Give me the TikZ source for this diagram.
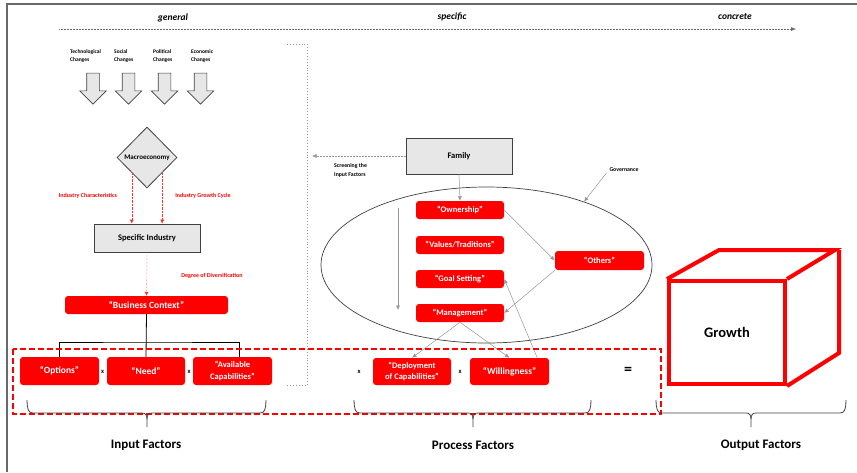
\documentclass[tikz,border=0pt]{standalone}
\usepackage{fontspec}
\setmainfont{Carlito}
\usetikzlibrary{shapes.geometric,shapes.arrows,arrows.meta,calc}
\definecolor{boxred}{RGB}{255,0,0}
\definecolor{panelgrey}{RGB}{231,231,231}
\definecolor{edgegrey}{RGB}{64,64,64}
\definecolor{linkgrey}{RGB}{150,150,150}
\definecolor{framegrey}{RGB}{105,105,105}

% horizontal curly brace: left x, right x, top y, tip x
\newcommand\factorbrace[4]{%
  \draw[bracestyle] (#1,#3) .. controls (#1+0.3,#3+9) and (#1+1,#3+13) .. (#1+6,#3+13)
    -- (#4-5,#3+13) .. controls (#4-1.5,#3+13) and (#4,#3+15) .. (#4,#3+19) -- (#4,#3+27);
  \draw[bracestyle] (#2,#3) .. controls (#2-0.3,#3+9) and (#2-1,#3+13) .. (#2-6,#3+13)
    -- (#4+5,#3+13) .. controls (#4+1.5,#3+13) and (#4,#3+15) .. (#4,#3+19);
}

\begin{document}
\begin{tikzpicture}[x=1pt,y=-1pt,
  redbox/.style={draw=none, fill=boxred, rounded corners=3pt, text=white,
    font=\bfseries\fontsize{8.5}{11.5}\selectfont, align=center, inner sep=0pt},
  bigred/.style={redbox, font=\bfseries\fontsize{9.5}{11.5}\selectfont},
  greybox/.style={draw=edgegrey, fill=panelgrey, line width=0.8pt,
    font=\bfseries\fontsize{8.5}{10}\selectfont, inner sep=0pt},
  chgarrow/.style={single arrow, draw=edgegrey, fill=panelgrey, line width=0.6pt,
    single arrow head extend=7pt, minimum height=31pt, inner sep=6pt, rotate=-90},
  smalltext/.style={font=\bfseries\fontsize{5.5}{8.5}\selectfont, align=left, inner sep=0pt},
  redlabel/.style={text=boxred, font=\bfseries\fontsize{6}{7}\selectfont, inner sep=0pt},
  axislabel/.style={font=\bfseries\itshape\fontsize{9.5}{11}\selectfont, inner sep=0pt},
  factorlabel/.style={font=\bfseries\fontsize{13}{15}\selectfont, inner sep=0pt},
  timesmark/.style={font=\bfseries\fontsize{6.5}{8}\selectfont, inner sep=0pt},
  redlink/.style={draw=boxred!80, densely dotted, line width=0.4pt, -{Latex[length=4pt,width=4pt]}},
  greylink/.style={draw=linkgrey, line width=0.5pt, -{Latex[length=4.5pt,width=4pt]}},
  bracestyle/.style={draw=black!75, line width=0.8pt},
  cubeline/.style={draw=boxred, line width=4pt, line join=miter},
]
\useasboundingbox (0,0) rectangle (857,472);

% outer frame
\draw[framegrey, line width=1.3pt] (7,472) -- (7,4) -- (857,4);

% general -> specific -> concrete axis
\coordinate (axS) at (59,29);
\coordinate (axE) at (796,29);
\draw[linkgrey!70!black, densely dotted, line width=0.5pt, -{Latex[length=5pt,width=4pt]}] (axS) -- (axE);
\node[axislabel] (gen) at (173,18) {general};
\node[axislabel] (spe) at (452,17) {specific};
\node[axislabel] (con) at (735,17) {concrete};

% environmental changes
\node[smalltext, anchor=north west] (tech) at (70,49) {Technological\\Changes};
\node[smalltext, anchor=north west] (soc) at (114,49) {Social\\Changes};
\node[smalltext, anchor=north west] (pol) at (153,49) {Political\\Changes};
\node[smalltext, anchor=north west] (eco) at (191,49) {Economic\\Changes};
\node[chgarrow] (a1) at (93,85.5) {};
\node[chgarrow] (a2) at (128.5,85.5) {};
\node[chgarrow] (a3) at (164.5,85.5) {};
\node[chgarrow] (a4) at (200.5,85.5) {};

% macro level to business context
\node[diamond, draw=edgegrey, fill=panelgrey, line width=0.8pt, minimum width=60pt,
  minimum height=61pt, inner sep=0pt, font=\bfseries\fontsize{7}{8}\selectfont] (mac) at (147,157.5) {Macroeconomy};
\node[greybox, minimum width=106pt, minimum height=28pt] (si) at (147,238) {Specific Industry};
\draw[redlink] (mac.south west) -- (mac.south west |- si.north);
\draw[redlink] (mac.south east) -- (mac.south east |- si.north);
\node[redlabel] (ichar) at (88,196) {Industry Characteristics};
\node[redlabel] (igrow) at (203,196) {Industry Growth Cycle};

\node[bigred, minimum width=163pt, minimum height=18pt] (bc) at (146.5,305) {“Business Context”};
\draw[redlink] (si.south) -- (bc.north);
\node[redlabel] (div) at (212,276) {Degree of Diversification};

% input factors
\node[bigred, minimum width=79pt, minimum height=28pt] (opt) at (59.5,371) {“Options”};
\node[bigred, minimum width=78pt, minimum height=28pt] (need) at (146,371) {“Need”};
\node[redbox, minimum width=79pt, minimum height=28pt] (av) at (232.5,371) {“Available\\Capabilities”};
\node[timesmark] (x1) at (102.5,372) {x};
\node[timesmark] (x2) at (189,372) {x};

\coordinate (split) at (146,342);
\coordinate (avtop) at ($(av.north)+(6.5,0)$);
\draw[black, line width=0.8pt] (bc.south) -- (need.north);
\draw[black, line width=0.8pt] (opt.north) |- (split) -| (avtop);

% screening bracket
\coordinate (brk) at (307,44);
\draw[linkgrey, dotted, line width=0.9pt] (287,44) -- (brk) -- (brk |- 0,385) -- (287,385);

% family and governance
\node[greybox, minimum width=106pt, minimum height=36pt] (fam) at (459,156) {Family};
\draw[greylink, densely dotted] (fam.west) -- ([xshift=5pt]fam.west -| brk);
\node[smalltext, anchor=north west, font=\bfseries\fontsize{5.8}{9}\selectfont] (scr) at (334,163) {Screening the\\Input Factors};

\node[ellipse, draw=black!75, line width=0.7pt, minimum width=331pt, minimum height=156pt, inner sep=0pt] (ell) at (486.5,265) {};
\node[redbox, minimum width=88pt, minimum height=18pt] (own) at (460,210) {“Ownership”};
\node[redbox, minimum width=88pt, minimum height=18pt] (val) at (460,245) {“Values/Traditions”};
\node[redbox, minimum width=88pt, minimum height=18pt] (gs) at (460,279) {“Goal Setting”};
\node[redbox, minimum width=88pt, minimum height=18pt] (man) at (460,313) {“Management”};
\node[redbox, minimum width=89pt, minimum height=19pt] (oth) at (599.5,260.5) {“Others”};

\node[smalltext, font=\bfseries\fontsize{5.8}{7}\selectfont] (gov) at (624,170) {Governance};
\draw[greylink] ([xshift=-3pt,yshift=-1pt]gov.south west) -- (ell.33);

\coordinate (flowT) at (398,208);
\coordinate (flowB) at (398,310);
\draw[greylink] (flowT) -- (flowB);
\draw[greylink] (fam.south) -- (own.north);
\draw[greylink] (own.east) -- (oth.west);
\draw[greylink] (oth.south west) -- (man.east);

% process factors
\node[redbox, minimum width=78pt, minimum height=27pt] (dep) at (412,371.5) {“Deployment\\of Capabilities”};
\node[bigred, minimum width=79pt, minimum height=27pt] (wil) at (509.5,371.5) {“Willingness”};
\node[timesmark] (x3) at (359,372) {x};
\node[timesmark] (x4) at (460,372) {x};
\draw[greylink] (man.south) -- (dep.north);
\draw[greylink] (man.south) -- (wil.north);
\draw[greylink] ($(wil.north)!0.7!(wil.north east)$) -- (gs.east);
\node[font=\bfseries\fontsize{16}{18}\selectfont, inner sep=0pt] (eq) at (628,371) {=};

% input + process frame
\draw[boxred, dashed, dash pattern=on 6pt off 3pt, line width=1.6pt] (13,349) rectangle (661,414);

% output cube
\node[cubeline, minimum width=116pt, minimum height=103pt, inner sep=0pt,
  font=\bfseries\fontsize{14.5}{16}\selectfont] (grw) at (727,332.5) {Growth};
\draw[cubeline] (grw.north west) -- ++(52,-29) -- ++(116,0) -- (grw.north east);
\draw[cubeline] ($(grw.north east)+(52,-29)$) -- ++(0,103) -- (grw.south east);

% braces and factor labels
\factorbrace{27}{266}{400}{147}
\factorbrace{354}{591}{400}{473}
\factorbrace{656}{846}{400}{751}
\node[factorlabel] (inF) at (146,445) {Input Factors};
\node[factorlabel] (prF) at (473,445) {Process Factors};
\node[factorlabel] (ouF) at (761,445) {Output Factors};
\end{tikzpicture}
\end{document}
